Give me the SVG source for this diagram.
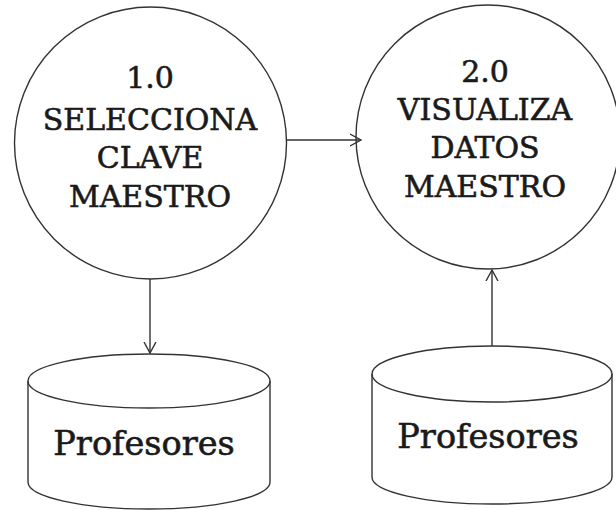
<svg xmlns="http://www.w3.org/2000/svg" width="616" height="510" viewBox="0 0 616 510">
<style>
.sh{fill:none;stroke:#333333;stroke-width:1.4}
.ln{fill:none;stroke:#333333;stroke-width:1.4}
.pt{font-family:"DejaVu Serif",serif;font-size:30px;fill:#1a1a1a;stroke:#1a1a1a;stroke-width:0.6;text-anchor:middle}
.st{font-family:"DejaVu Serif",serif;font-size:33.5px;fill:#1a1a1a;stroke:#1a1a1a;stroke-width:0.6;text-anchor:middle}
</style>
<defs>
<marker id="ah" viewBox="0 0 12 14" refX="11" refY="7" markerWidth="12" markerHeight="14" markerUnits="userSpaceOnUse" orient="auto">
<path d="M0,1 L11,7 L0,13" fill="none" stroke="#333333" stroke-width="1.4"/>
</marker>
</defs>
<rect width="616" height="510" fill="#ffffff"/>
<g id="p1">
<circle class="sh" cx="150.5" cy="143" r="136"/>
<text class="pt" x="150" y="88">1.0</text>
<text class="pt" x="150" y="130">SELECCIONA</text>
<text class="pt" x="150" y="168">CLAVE</text>
<text class="pt" x="150" y="207">MAESTRO</text>
</g>
<g id="p2">
<circle class="sh" cx="488" cy="137" r="132"/>
<text class="pt" x="485" y="82">2.0</text>
<text class="pt" x="485" y="120">VISUALIZA</text>
<text class="pt" x="485" y="158">DATOS</text>
<text class="pt" x="485" y="197">MAESTRO</text>
</g>
<g id="d1">
<path class="sh" d="M28,381 L28,482 A121,27 0 0 0 270,482 L270,381"/>
<ellipse class="sh" cx="149" cy="381" rx="121" ry="27"/>
<text class="st" x="144" y="455">Profesores</text>
</g>
<g id="d2">
<path class="sh" d="M372,374 L372,477 A120,27 0 0 0 612,477 L612,374"/>
<ellipse class="sh" cx="492" cy="374" rx="120" ry="28"/>
<text class="st" x="488" y="448">Profesores</text>
</g>
<g id="connectors">
<line class="ln" x1="286" y1="140" x2="361" y2="140" marker-end="url(#ah)"/>
<line class="ln" x1="150" y1="279" x2="150" y2="353" marker-end="url(#ah)"/>
<line class="ln" x1="492" y1="346" x2="492" y2="270" marker-end="url(#ah)"/>
</g>
</svg>
